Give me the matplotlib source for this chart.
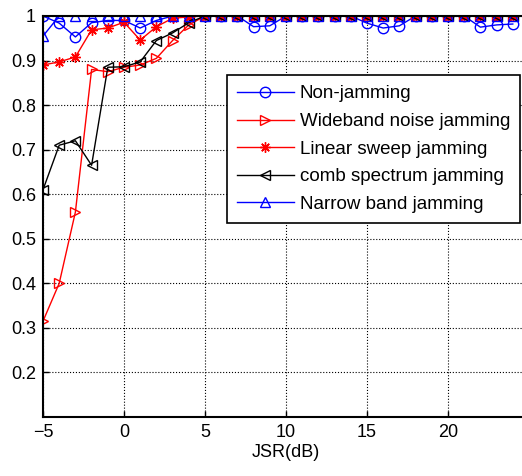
import matplotlib
matplotlib.use("Agg")
import matplotlib.pyplot as plt
import numpy as np

jsr = list(range(-5, 25))

non_jamming = [1.0, 0.984, 0.953, 0.985, 0.99, 0.99, 0.973, 0.99, 1.0, 1.0,
               1.0, 1.0, 1.0, 0.976, 0.978, 1.0, 1.0, 1.0, 1.0, 1.0,
               0.984, 0.973, 0.978, 1.0, 1.0, 1.0, 1.0, 0.975, 0.98, 0.982]
wideband = [0.315, 0.40, 0.56, 0.88, 0.875, 0.885, 0.89, 0.905, 0.945, 0.98,
            1.0, 1.0, 1.0, 1.0, 1.0, 1.0, 1.0, 1.0, 1.0, 1.0,
            1.0, 1.0, 1.0, 1.0, 1.0, 1.0, 1.0, 1.0, 1.0, 1.0]
linear_sweep = [0.89, 0.897, 0.908, 0.969, 0.973, 0.986, 0.946, 0.976, 0.995, 0.998,
                1.0, 1.0, 1.0, 1.0, 1.0, 1.0, 1.0, 1.0, 1.0, 1.0,
                1.0, 1.0, 1.0, 1.0, 1.0, 1.0, 1.0, 1.0, 1.0, 1.0]
comb = [0.61, 0.71, 0.72, 0.665, 0.885, 0.886, 0.897, 0.945, 0.962, 0.985,
        1.0, 1.0, 1.0, 1.0, 1.0, 1.0, 1.0, 1.0, 1.0, 1.0,
        1.0, 1.0, 1.0, 1.0, 1.0, 1.0, 1.0, 1.0, 1.0, 1.0]
narrow = [0.955, 1.0, 1.0, 1.0, 1.0, 1.0, 1.0, 1.0, 1.0, 1.0,
          1.0, 1.0, 1.0, 1.0, 1.0, 1.0, 1.0, 1.0, 1.0, 1.0,
          1.0, 1.0, 1.0, 1.0, 1.0, 1.0, 1.0, 1.0, 1.0, 1.0]

labels = ["Non-jamming", "Wideband noise jamming", "Linear sweep jamming",
          "comb spectrum jamming", "Narrow band jamming"]
xticks = [-5, 0, 5, 10, 15, 20]
yticks = [0.2, 0.3, 0.4, 0.5, 0.6, 0.7, 0.8, 0.9, 1.0]
yticklabels = ["0.2", "0.3", "0.4", "0.5", "0.6", "0.7", "0.8", "0.9", "1"]

plt.rcParams['font.family'] = ['Liberation Sans', 'DejaVu Sans']

fig = plt.figure(figsize=(5.22, 4.76), dpi=100)
ax = fig.add_axes([43/522, 1-417/476, (529-43)/522, (417-16)/476])

ms = 7.5
asterisk = (8, 2, 0)
ax.plot(jsr, non_jamming, color='blue', marker='o', mfc='none', ms=ms, lw=1, label=labels[0])
ax.plot(jsr, wideband, color='red', marker='>', mfc='none', ms=ms, lw=1, label=labels[1])
ax.plot(jsr, linear_sweep, color='red', marker=asterisk, mfc='none', ms=ms, lw=1, mew=1, label=labels[2])
ax.plot(jsr, comb, color='black', marker='<', mfc='none', ms=ms, lw=1, label=labels[3])
ax.plot(jsr, narrow, color='blue', marker='^', mfc='none', ms=ms, lw=1, label=labels[4])

ax.set_xlim(-5, 25)
ax.set_ylim(0.1, 1.0)
ax.set_xticks(xticks)
ax.set_yticks(yticks)
ax.set_yticklabels(yticklabels)
ax.tick_params(direction='in', labelsize=13, length=4, width=1, top=True, right=True, pad=5)
ax.grid(True, color='black', linestyle=':', linewidth=0.8)
for s in ax.spines.values():
    s.set_linewidth(1.5)
ax.set_xlabel("JSR(dB)", fontsize=13, labelpad=2)

leg = ax.legend(loc='upper left', bbox_to_anchor=(227/522, 1-75/476),
                bbox_transform=fig.transFigure, fontsize=13.5, fancybox=False,
                edgecolor='black', framealpha=1, handlelength=3.0,
                borderpad=0.55, labelspacing=0.56, handletextpad=0.32,
                borderaxespad=0)
leg.get_frame().set_linewidth(1.2)

fig.savefig("out.png", dpi=100)
